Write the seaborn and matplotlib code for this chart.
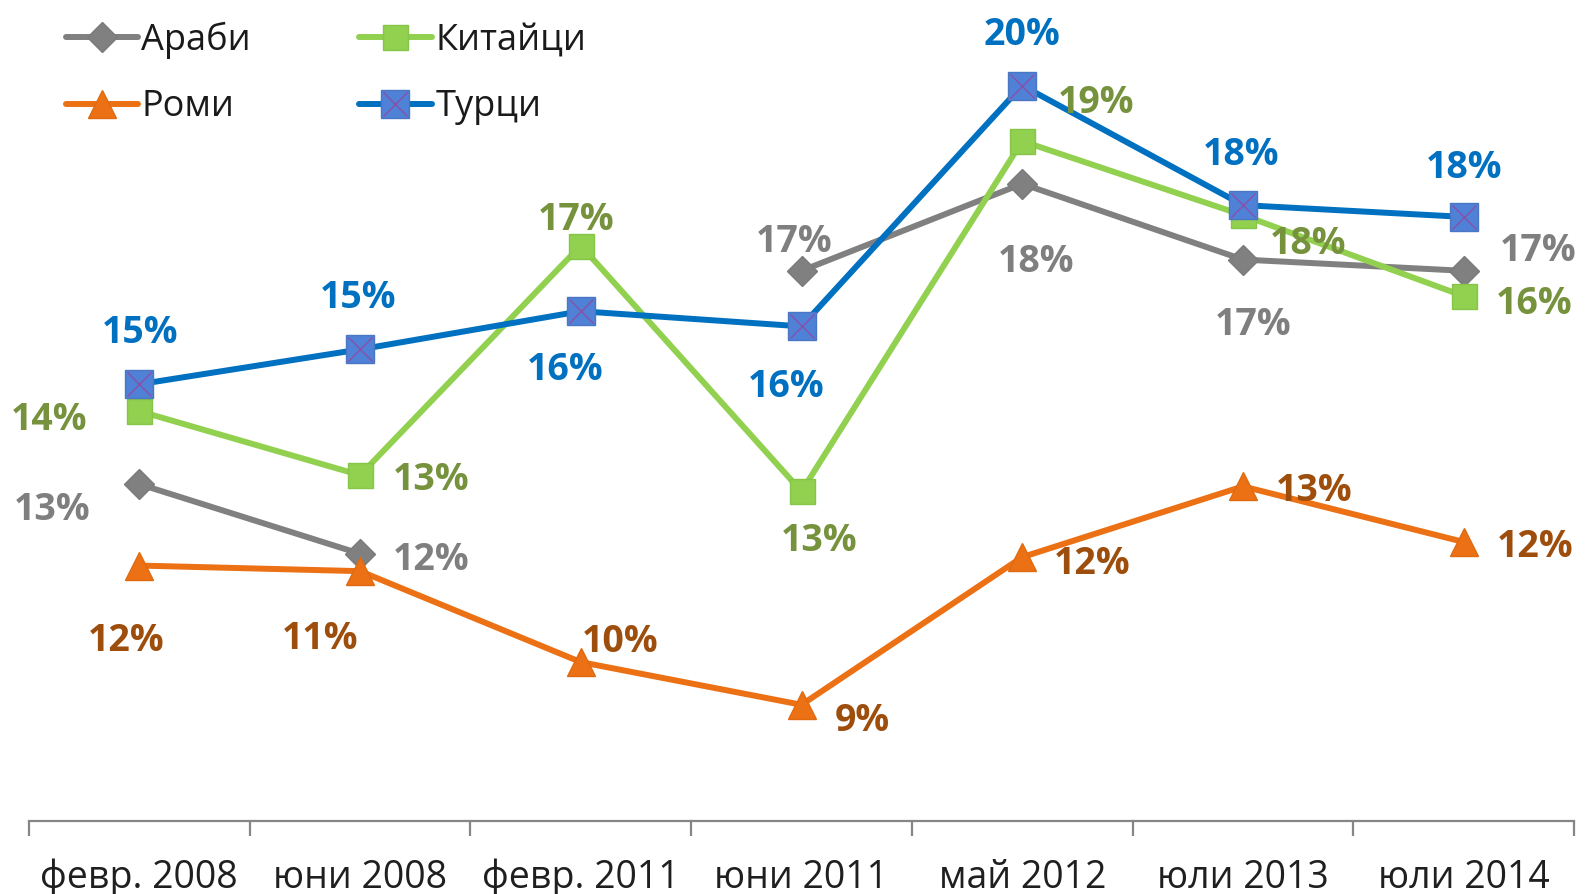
import numpy as np
import pandas as pd
import matplotlib
matplotlib.use("Agg")
import matplotlib.pyplot as plt
import seaborn as sns
from matplotlib.lines import Line2D

# ---------------- data ----------------
periods = ["февр. 2008", "юни 2008", "февр. 2011", "юни 2011", "май 2012", "юли 2013", "юли 2014"]
series_names = ["Араби", "Китайци", "Роми", "Турци"]
arabi = [13.0, 11.76, np.nan, 16.80, 18.35, 17.0, 16.8]
kitaici = [14.30, 13.16, 17.25, 12.87, 19.11, 17.79, 16.35]
romi = [11.55, 11.45, 9.83, 9.07, 11.70, 12.96, 11.97]
turci = [14.78, 15.40, 16.08, 15.81, 20.10, 17.97, 17.76]

# label offsets (pixels, relative to the point; +x right, +y down in image)
off_arabi = [(-86, 21), (70, 2), None, (-7, -33), (14, 73), (10, 60), (74, -24)]
off_kitaici = [(-89, 4), (70, 0), (-5, -30), (17, 45), (73, -42), (64, 24), (70, 3)]
off_romi = [(-13, 70), (-40, 63), (39, -24), (60, 12), (69, 2), (70, 0), (71, 1)]
off_turci = [(1, -55), (-2, -55), (-15, 54), (-15, 56), (0, -54), (-2, -54), (0, -53)]

# ---------------- style ----------------
sns.set_theme(style="white")
plt.rcParams["font.family"] = ["Open Sans", "DejaVu Sans"]

styles = {
    "Араби":   dict(line="#808080", face="#808080", edge="#7a7a7a", marker="D", ms=15, label="#7F7F7F"),
    "Китайци": dict(line="#92D050", face="#92D050", edge="#86c548", marker="s", ms=18, label="#76923C"),
    "Роми":    dict(line="#EC7014", face="#EC7014", edge="#e06a10", marker="^", ms=20, label="#9E4E0C"),
    "Турци":   dict(line="#0070C0", face="#4F81D6", edge="#4a76c4", marker="s", ms=20, label="#0070C0"),
}
values = {"Араби": arabi, "Китайци": kitaici, "Роми": romi, "Турци": turci}
offsets = {"Араби": off_arabi, "Китайци": off_kitaici, "Роми": off_romi, "Турци": off_turci}

W, H = 1585, 894
fig = plt.figure(figsize=(W / 100, H / 100), dpi=100)
ax = fig.add_axes([29 / W, (H - 821) / H, (1574 - 29) / W, (821 - 35) / H])

xpos = np.arange(len(periods))
LW = 4.3
for name in series_names:
    vals = np.array(values[name], dtype=float)
    # segment ids so that missing values break the line
    seg = np.cumsum(np.isnan(vals))
    df = pd.DataFrame({"x": xpos, "y": vals, "seg": seg}).dropna()
    st = styles[name]
    sns.lineplot(data=df, x="x", y="y", units="seg", estimator=None, ax=ax,
                 color=st["line"], linewidth=LW, marker=st["marker"], markersize=st["ms"],
                 markerfacecolor=st["face"], markeredgecolor=st["edge"], markeredgewidth=1,
                 legend=False, zorder=3)
    if name == "Турци":
        sns.scatterplot(data=df, x="x", y="y", marker="x", s=300, color="#8A4FA8",
                        linewidth=1.0, ax=ax, legend=False, zorder=4)
    for xi, v, off in zip(xpos, vals, offsets[name]):
        if np.isnan(v) or off is None:
            continue
        ax.annotate(f"{v:.0f}%", (xi, v), xytext=(off[0] * 1.011, -off[1] * 1.011),
                    textcoords="offset pixels", ha="center", va="center_baseline",
                    fontsize=27, fontweight="bold", color=st["label"], zorder=5)

ax.set_xlim(-0.5, len(periods) - 0.5)
ax.set_ylim(7, 21)
ax.set_xlabel("")
ax.set_ylabel("")
ax.set_yticks([])
for s in ["left", "right", "top"]:
    ax.spines[s].set_visible(False)
ax.spines["bottom"].set_color("#868686")
ax.spines["bottom"].set_linewidth(1.6)

ax.set_xticks(np.arange(-0.5, len(periods), 1.0))
ax.set_xticklabels([])
ax.tick_params(axis="x", which="major", length=11, width=1.6, color="#868686", direction="out", bottom=True)
ax.set_xticks(xpos, minor=True)
ax.set_xticklabels(periods, minor=True)
ax.tick_params(axis="x", which="minor", length=0, pad=27, labelsize=27, labelcolor="#1f1f1f")

# legend
handles = [
    Line2D([], [], color=styles["Араби"]["line"], lw=LW, marker="D", ms=15,
           markerfacecolor=styles["Араби"]["face"], markeredgecolor=styles["Араби"]["edge"]),
    Line2D([], [], color=styles["Роми"]["line"], lw=LW, marker="^", ms=20,
           markerfacecolor=styles["Роми"]["face"], markeredgecolor=styles["Роми"]["edge"]),
    Line2D([], [], color=styles["Китайци"]["line"], lw=LW, marker="s", ms=18,
           markerfacecolor=styles["Китайци"]["face"], markeredgecolor=styles["Китайци"]["edge"]),
    (Line2D([], [], color=styles["Турци"]["line"], lw=LW, marker="s", ms=20,
            markerfacecolor=styles["Турци"]["face"], markeredgecolor=styles["Турци"]["edge"]),
     Line2D([], [], lw=0, marker="x", ms=17, color="#8A4FA8", markeredgewidth=1.0)),
]
labels = ["Араби", "Роми", "Китайци", "Турци"]
fig.legend(handles, labels, ncol=2, loc="upper left", bbox_to_anchor=(33 / W, 1 + 11 / H),
           frameon=False, fontsize=26, handlelength=2.0, handletextpad=0.1,
           columnspacing=3.0, labelspacing=0.85, labelcolor="#1a1a1a")

fig.savefig("out.png", dpi=100)
